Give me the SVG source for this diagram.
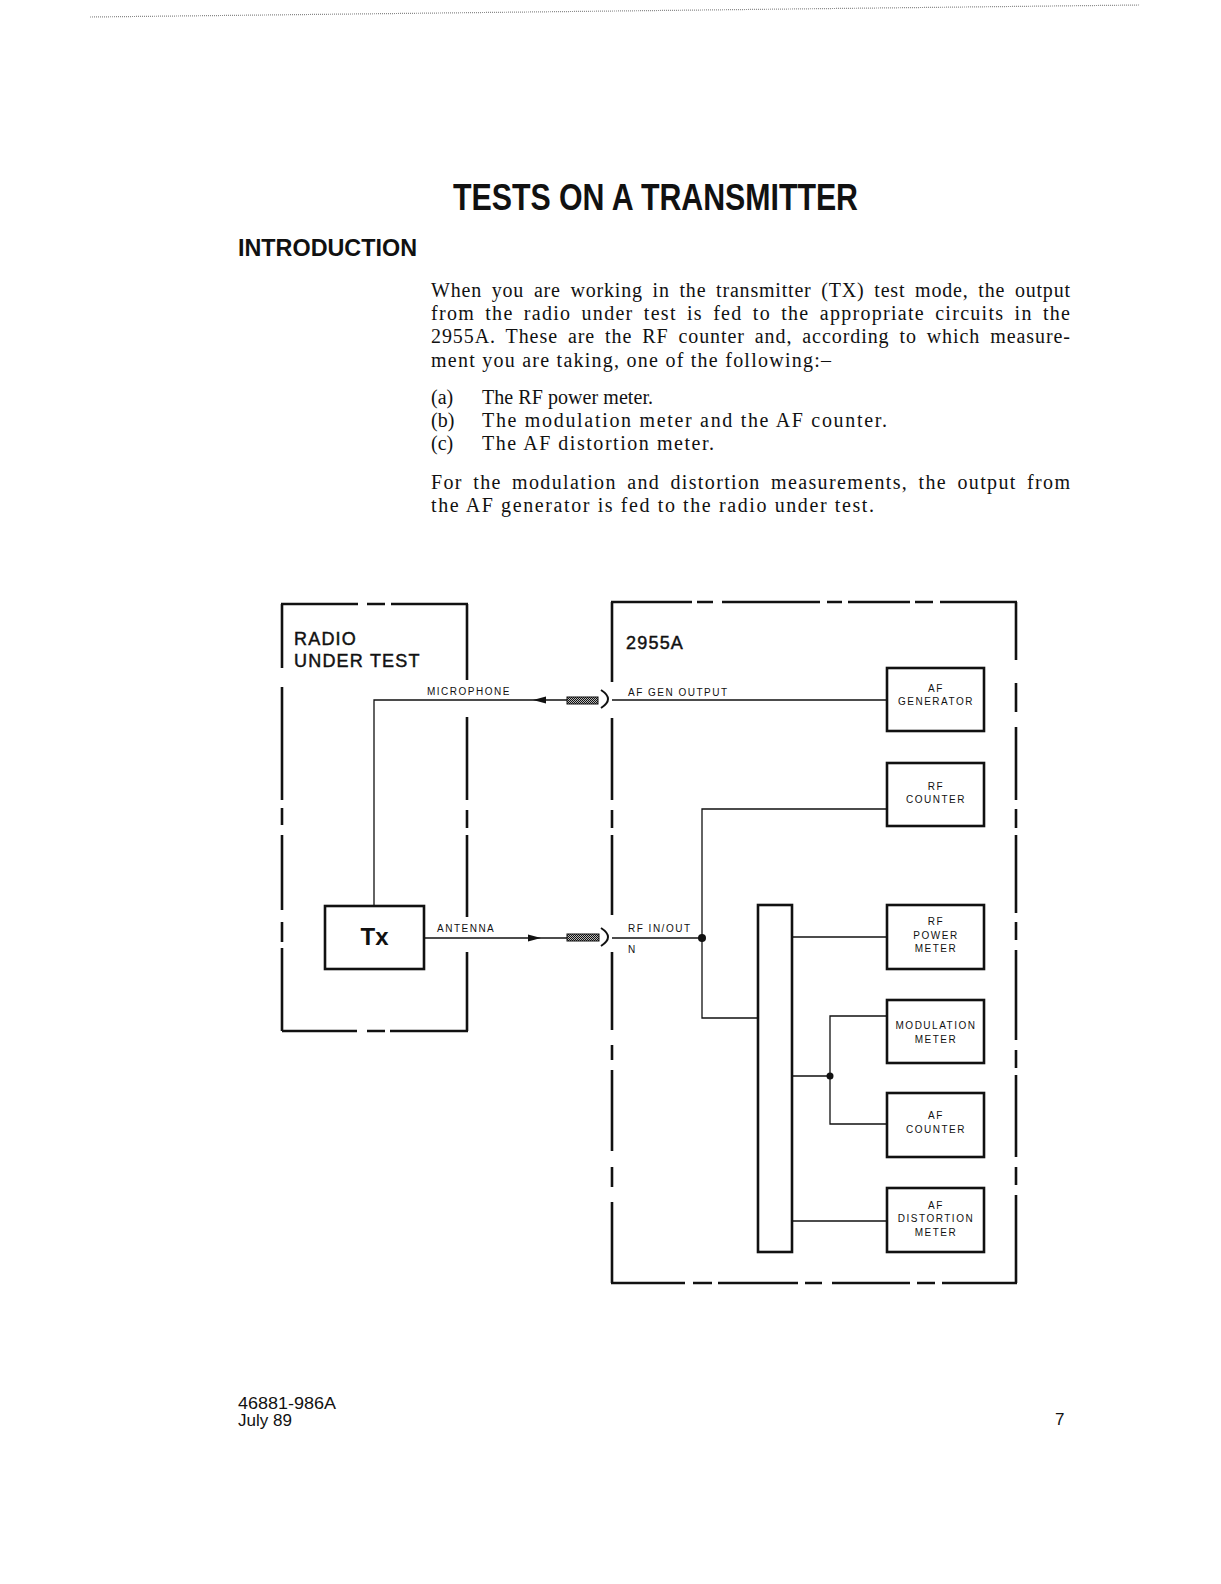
<svg xmlns="http://www.w3.org/2000/svg" width="1221" height="1584" viewBox="0 0 1221 1584">
<style>
.frame{fill:none;stroke:#111;stroke-width:2.6}
.box{fill:#fff;stroke:#111;stroke-width:2.6}
.wire{fill:none;stroke:#111;stroke-width:1.3}
.lbl{font-family:"Liberation Sans",Arial,sans-serif;font-size:10px;letter-spacing:1.5px;fill:#111}
.nl{font-family:"Liberation Sans",Arial,sans-serif;font-size:10px;letter-spacing:1.5px;fill:#111;text-anchor:middle}
.body{font-family:"Liberation Serif","Times New Roman",serif;font-size:20px;fill:#111}
.just{word-spacing:4px}
.head{font-family:"Liberation Sans",Arial,sans-serif;font-weight:bold;fill:#111}
.big{font-family:"Liberation Sans",Arial,sans-serif;font-size:18px;letter-spacing:1.2px;fill:#111;stroke:#111;stroke-width:0.45}
.foot{font-family:"Liberation Sans",Arial,sans-serif;font-size:17px;fill:#111}
.jack{fill:none;stroke:#111;stroke-width:2}
.plug{fill:url(#hatch);stroke:#111;stroke-width:1}
</style>
<defs>
<pattern id="hatch" width="2" height="2" patternUnits="userSpaceOnUse">
<rect width="2" height="2" fill="#bbb"/>
<rect width="1" height="1" fill="#111"/>
<rect x="1" y="1" width="1" height="1" fill="#111"/>
</pattern>
</defs>
<rect width="1221" height="1584" fill="#fff"/>
<line x1="90" y1="17" x2="1140" y2="5" stroke="#888" stroke-width="1.2" stroke-dasharray="1 1"/>

<text class="head" x="453" y="210" font-size="36" textLength="405" lengthAdjust="spacingAndGlyphs">TESTS ON A TRANSMITTER</text>
<text class="head" x="238" y="256" font-size="24" textLength="179" lengthAdjust="spacingAndGlyphs">INTRODUCTION</text>

<g id="body-text">
<text class="body just" x="431" y="297" textLength="639" lengthAdjust="spacing">When you are working in the transmitter (TX) test mode, the output</text>
<text class="body just" x="431" y="320" textLength="639" lengthAdjust="spacing">from the radio under test is fed to the appropriate circuits in the</text>
<text class="body just" x="431" y="343" textLength="639" lengthAdjust="spacing">2955A.  These are the RF counter and, according to which measure-</text>
<text class="body" x="431" y="367" textLength="400" lengthAdjust="spacing">ment you are taking, one of the following:–</text>
<text class="body" x="431" y="404">(a)</text>
<text class="body" x="482" y="404" textLength="171" lengthAdjust="spacing">The RF power meter.</text>
<text class="body" x="431" y="427">(b)</text>
<text class="body" x="482" y="427" textLength="405" lengthAdjust="spacing">The modulation meter and the AF counter.</text>
<text class="body" x="431" y="450">(c)</text>
<text class="body" x="482" y="450" textLength="232" lengthAdjust="spacing">The AF distortion meter.</text>
<text class="body just" x="431" y="489" textLength="639" lengthAdjust="spacing">For the modulation and distortion measurements, the output from</text>
<text class="body" x="431" y="512" textLength="443" lengthAdjust="spacing">the AF generator is fed to the radio under test.</text>
</g>

<g id="radio-under-test">
<path class="frame" d="M281,604H358M367,604H385M391,604H468M282,1031H357M367,1031H385M390,1031H468M282,604V668M282,687V800M282,808V825M282,835V910M282,922V942M282,948V1031M467,604V680M467,717V800M467,810V828M467,835V917M467,952V1031"/>
<text class="big" x="294" y="645">RADIO</text>
<text class="big" x="294" y="667">UNDER TEST</text>
</g>

<g id="tx">
<rect class="box" x="325" y="906" width="99" height="63"/>
<text class="head" x="374.5" y="945" font-size="24" text-anchor="middle">Tx</text>
</g>

<g id="unit-2955a">
<path class="frame" d="M611,602H692M697,602H713M722,602H820M827,602H842M848,602H910M915,602H933M940,602H1017M611,1283H685M693,1283H712M718,1283H798M805,1283H822M832,1283H910M917,1283H935M942,1283H1017M612,602V682M612,718V800M612,810V828M612,835V915M612,952V1030M612,1045V1060M612,1070V1151M612,1167V1187M612,1202V1283M1016,602V660M1016,683V712M1016,727V800M1016,809V828M1016,835V913M1016,922V940M1016,950V1040M1016,1050V1068M1016,1075V1157M1016,1167V1185M1016,1195V1283"/>
<text class="big" x="626" y="649" font-size="19" letter-spacing="0.6">2955A</text>
</g>

<g id="af-generator">
<rect class="box" x="887" y="668" width="97" height="63"/>
<text class="nl" x="936" y="692">AF</text>
<text class="nl" x="936" y="705">GENERATOR</text>
</g>
<g id="rf-counter">
<rect class="box" x="887" y="763" width="97" height="63"/>
<text class="nl" x="936" y="790">RF</text>
<text class="nl" x="936" y="803">COUNTER</text>
</g>
<g id="rf-power-meter">
<rect class="box" x="887" y="905" width="97" height="64"/>
<text class="nl" x="936" y="925">RF</text>
<text class="nl" x="936" y="939">POWER</text>
<text class="nl" x="936" y="952">METER</text>
</g>
<g id="modulation-meter">
<rect class="box" x="887" y="1000" width="97" height="63"/>
<text class="nl" x="936" y="1029">MODULATION</text>
<text class="nl" x="936" y="1043">METER</text>
</g>
<g id="af-counter">
<rect class="box" x="887" y="1093" width="97" height="64"/>
<text class="nl" x="936" y="1119">AF</text>
<text class="nl" x="936" y="1133">COUNTER</text>
</g>
<g id="af-distortion-meter">
<rect class="box" x="887" y="1188" width="97" height="64"/>
<text class="nl" x="936" y="1209">AF</text>
<text class="nl" x="936" y="1222">DISTORTION</text>
<text class="nl" x="936" y="1236">METER</text>
</g>
<g id="switch-bar">
<rect class="box" x="758" y="905" width="34" height="347"/>
</g>

<g id="connectors">
<path class="wire" d="M374,906V700H567"/>
<polygon points="533,700 546,696.5 546,703.5" fill="#111"/>
<rect class="plug" x="567" y="697" width="31" height="7"/>
<path class="jack" d="M601,690Q615,699 601,708"/>
<path class="wire" d="M612,700H887"/>
<path class="wire" d="M424,938H567"/>
<polygon points="541,938 528,934.5 528,941.5" fill="#111"/>
<rect class="plug" x="567" y="934" width="32" height="7"/>
<path class="jack" d="M601,928Q615,937 601,946"/>
<path class="wire" d="M612,938H702"/>
<path class="wire" d="M887,809H702V1018H758"/>
<circle cx="702" cy="938" r="4" fill="#111"/>
<path class="wire" d="M792,937H887"/>
<path class="wire" d="M887,1016H830V1124H887M792,1076H830"/>
<circle cx="830" cy="1076" r="3.5" fill="#111"/>
<path class="wire" d="M792,1221H887"/>
<text class="lbl" x="427" y="695">MICROPHONE</text>
<text class="lbl" x="628" y="696">AF GEN OUTPUT</text>
<text class="lbl" x="437" y="932">ANTENNA</text>
<text class="lbl" x="628" y="932">RF IN/OUT</text>
<text class="lbl" x="628" y="953">N</text>
</g>

<text class="foot" x="238" y="1409" textLength="98" lengthAdjust="spacingAndGlyphs">46881-986A</text>
<text class="foot" x="238" y="1426">July 89</text>
<text class="foot" x="1055" y="1425">7</text>
</svg>
